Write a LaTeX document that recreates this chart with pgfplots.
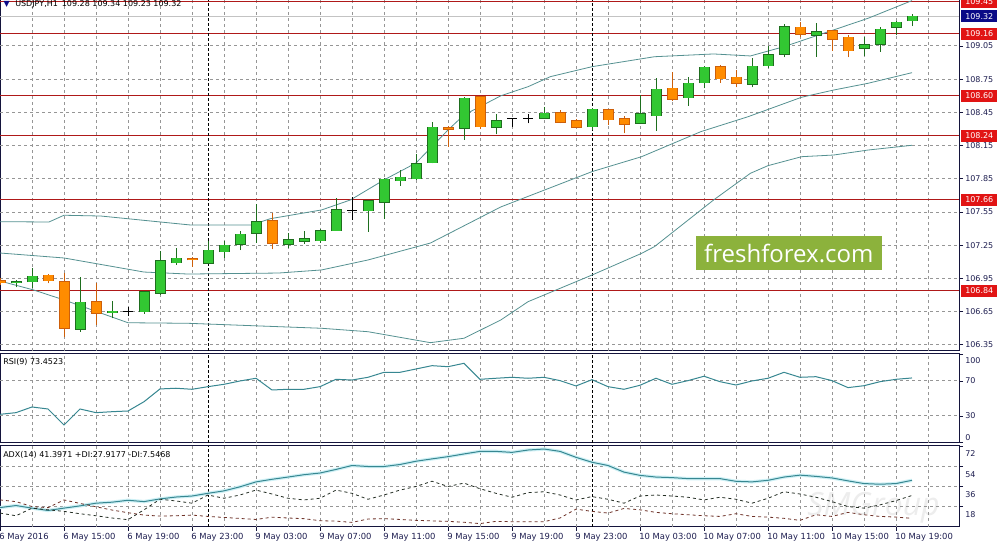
\documentclass[border=0pt]{standalone}
\usepackage{pgfplots}
\pgfplotsset{compat=1.18}
\usepackage{pgfplotstable}
\usepackage{fontspec}
\setmainfont{DejaVu Sans}
\newfontfamily\wmfont{Open Sans}
\definecolor{gfill}{RGB}{50,200,50}
\definecolor{gline}{RGB}{30,110,30}
\definecolor{ofill}{RGB}{255,140,0}
\definecolor{oline}{RGB}{205,95,10}
\definecolor{bbcol}{RGB}{85,145,145}
\definecolor{rsicol}{RGB}{55,135,145}
\definecolor{adxglow}{RGB}{205,240,245}
\definecolor{pdicol}{RGB}{35,45,35}
\definecolor{mdicol}{RGB}{110,50,40}
\definecolor{framecol}{RGB}{20,20,60}
\definecolor{lvlcol}{RGB}{175,25,25}
\definecolor{lvlbox}{RGB}{225,20,20}
\definecolor{navybox}{RGB}{10,10,135}
\definecolor{wmgreen}{RGB}{140,178,60}
\definecolor{bidcol}{RGB}{195,195,195}
\definecolor{labcol}{RGB}{30,30,80}
\definecolor{gridc}{RGB}{150,150,150}
\newcommand\tf{\fontsize{6pt}{7pt}\selectfont}
\newcommand\xf{\fontsize{6.3pt}{7pt}\selectfont}

\pgfplotstableread{
k O H L C
0 106.910 106.940 106.870 106.920
1 106.921 107.047 106.864 106.972
4 106.491 106.966 106.469 106.735
6 106.641 106.746 106.590 106.656
8 106.650 106.839 106.629 106.830
9 106.816 107.201 106.801 107.108
10 107.092 107.223 107.072 107.132
12 107.087 107.291 107.087 107.207
13 107.192 107.291 107.132 107.250
14 107.259 107.379 107.207 107.349
15 107.358 107.623 107.273 107.463
17 107.259 107.358 107.223 107.298
18 107.286 107.382 107.261 107.307
19 107.291 107.394 107.273 107.379
20 107.382 107.674 107.382 107.569
22 107.562 107.659 107.373 107.650
23 107.638 107.855 107.487 107.846
24 107.833 107.930 107.788 107.864
25 107.849 108.074 107.840 107.984
26 107.996 108.366 107.990 108.316
28 108.307 108.592 108.201 108.578
30 108.316 108.433 108.252 108.375
33 108.397 108.496 108.397 108.442
36 108.321 108.487 108.291 108.478
39 108.352 108.607 108.345 108.436
40 108.420 108.758 108.285 108.659
42 108.583 108.773 108.508 108.713
43 108.718 108.869 108.668 108.858
46 108.704 108.939 108.677 108.869
47 108.872 109.050 108.849 108.969
48 108.975 109.249 108.948 109.224
50 109.149 109.260 108.953 109.179
53 109.029 109.129 108.960 109.059
54 109.065 109.219 108.999 109.201
55 109.219 109.279 109.149 109.264
56 109.280 109.340 109.230 109.320
}\greentab

\pgfplotstableread{
k O H L C
-1 106.930 106.950 106.890 106.910
2 106.979 106.990 106.906 106.930
3 106.921 106.997 106.424 106.500
5 106.740 106.906 106.530 106.635
11 107.129 107.147 107.056 107.117
16 107.472 107.544 107.213 107.268
27 108.310 108.327 108.140 108.300
29 108.592 108.592 108.298 108.321
34 108.447 108.472 108.352 108.361
35 108.375 108.388 108.307 108.316
37 108.472 108.478 108.336 108.382
38 108.391 108.418 108.261 108.343
41 108.668 108.812 108.556 108.571
44 108.863 108.876 108.718 108.752
45 108.767 108.833 108.677 108.713
49 109.219 109.270 109.134 109.156
51 109.188 109.195 109.008 109.110
52 109.129 109.149 108.948 109.008
}\orangetab

\pgfplotstableread{
k O H L C
7 106.650 106.695 106.611 106.650
21 107.560 107.683 107.478 107.560
31 108.397 108.400 108.321 108.397
32 108.397 108.436 108.352 108.397
}\dojitab

\pgfplotstableread{
k rsi adx pdi mdi
-1 31.9 17.1 12.2 23.9
0 33.8 18.9 9.8 22.4
1 40.3 16.6 16.6 18.0
2 38.0 14.5 15.1 17.0
3 19.7 16.6 13.7 23.9
4 38.0 18.6 11.6 20.8
5 33.8 21.0 9.8 17.8
6 34.9 21.9 7.8 14.9
7 35.7 23.6 6.3 12.5
8 46.3 22.4 15.1 10.4
9 60.9 24.8 24.5 9.5
10 61.7 26.5 23.0 9.8
11 60.5 27.4 21.0 10.4
12 63.5 29.8 28.3 9.2
13 66.2 32.0 25.4 8.3
14 70.0 35.6 28.3 7.4
15 73.1 40.0 32.7 6.5
16 59.7 42.3 29.2 8.5
17 60.5 44.3 25.4 7.8
18 60.5 46.4 23.9 7.2
19 63.5 47.9 25.4 5.4
20 71.9 51.1 32.7 5.0
21 71.1 54.6 29.8 3.9
22 74.2 53.7 24.5 6.9
23 79.9 53.7 28.3 7.2
24 79.9 55.5 32.7 6.5
25 83.7 58.4 35.9 5.7
26 87.5 60.5 40.6 5.2
27 86.3 62.5 35.9 4.8
28 90.2 64.9 38.9 4.0
29 71.9 67.2 33.9 2.8
30 73.1 67.2 29.8 4.8
31 74.2 66.3 26.3 4.5
32 73.1 68.4 30.4 4.5
33 74.2 69.3 31.2 4.5
34 70.4 67.2 28.3 7.8
35 64.3 61.9 23.9 15.7
36 71.5 57.5 26.9 13.7
37 63.5 54.6 24.5 12.2
38 60.5 48.7 21.0 16.3
39 65.1 45.8 27.4 15.1
40 73.1 44.3 28.3 12.8
41 66.2 43.8 27.4 11.6
42 70.4 42.9 26.3 10.7
43 75.4 42.9 23.9 9.8
44 69.2 42.9 26.3 9.2
45 65.4 40.5 24.5 11.6
46 70.0 40.0 21.0 9.2
47 73.1 41.4 25.4 8.6
48 79.9 44.3 31.2 7.5
49 74.2 46.0 29.2 5.7
50 74.9 44.9 26.3 10.7
51 70.4 43.5 22.4 9.2
52 62.4 40.9 18.0 12.8
53 64.6 38.5 16.6 10.7
54 69.2 37.9 19.5 9.2
55 71.9 38.5 23.3 8.6
56 73.45 41.4 27.9 7.5
}\indtab

\pgfplotstableread{
g z
1 0
3 0
5 0
7 0
9 0
11 0
13 0
15 0
17 0
19 0
21 0
23 0
25 0
27 0
29 0
31 0
33 0
35 0
37 0
39 0
41 0
43 0
45 0
47 0
49 0
51 0
53 0
55 0
57 0
}\gridtab

\pgfplotsset{
  panel/.style={
    scale only axis, anchor=south west,
    xmin=-1, xmax=58.9375,
    axis line style={framecol, line width=0.75pt},
    clip=false,
    major tick length=3pt, tick align=outside,
    tick style={framecol, line width=0.6pt},
    ytick pos=right, yticklabel pos=right,
    yticklabel style={font=\tf, inner sep=0pt, anchor=west, xshift=1.5pt, text=labcol},
  },
  sep/.style={black, line width=0.75pt, dash pattern=on 2.25pt off 1.5pt},
  hgrid/.style={gridc, line width=0.75pt, dash pattern=on 2.25pt off 2.25pt},
}

\begin{document}
\begin{tikzpicture}
\fill[white] (0pt,0pt) rectangle (750.75pt,411.75pt);

% ---------------- main price panel ----------------
\begin{axis}[panel, at={(0pt,148.5pt)}, width=719.25pt, height=263.25pt,
  ymin=106.2948, ymax=109.4655,
  xtick=\empty,
  ytick={106.35,106.65,106.95,107.25,107.55,107.85,108.15,108.45,108.75,109.05},
  yticklabels={106.35,106.65,106.95,107.25,107.55,107.85,108.15,108.45,108.75,109.05}]
  % grid
  \addplot[hgrid, mark=none, quiver={u=0, v=3.1707}] table[x=g, y expr=\thisrow{z}+106.2948] {\gridtab};
  \addplot[hgrid] coordinates {(-1,106.35) (58.9375,106.35)};
  \addplot[hgrid] coordinates {(-1,106.65) (58.9375,106.65)};
  \addplot[hgrid] coordinates {(-1,106.95) (58.9375,106.95)};
  \addplot[hgrid] coordinates {(-1,107.25) (58.9375,107.25)};
  \addplot[hgrid] coordinates {(-1,107.55) (58.9375,107.55)};
  \addplot[hgrid] coordinates {(-1,107.85) (58.9375,107.85)};
  \addplot[hgrid] coordinates {(-1,108.15) (58.9375,108.15)};
  \addplot[hgrid] coordinates {(-1,108.45) (58.9375,108.45)};
  \addplot[hgrid] coordinates {(-1,108.75) (58.9375,108.75)};
  \addplot[hgrid] coordinates {(-1,109.05) (58.9375,109.05)};
  % bid line
  \addplot[bidcol, line width=0.6pt] coordinates {(-1,109.32) (58.9375,109.32)};
  % levels
  \addplot[lvlcol, line width=0.75pt] coordinates {(-1,109.45) (58.9375,109.45)};
  \addplot[lvlcol, line width=0.75pt] coordinates {(-1,109.16) (58.9375,109.16)};
  \addplot[lvlcol, line width=0.75pt] coordinates {(-1,108.60) (58.9375,108.60)};
  \addplot[lvlcol, line width=0.75pt] coordinates {(-1,108.24) (58.9375,108.24)};
  \addplot[lvlcol, line width=0.75pt] coordinates {(-1,107.66) (58.9375,107.66)};
  \addplot[lvlcol, line width=0.75pt] coordinates {(-1,106.84) (58.9375,106.84)};
  % separators
  \addplot[sep] coordinates {(12,106.2948) (12,109.4655)};
  \addplot[sep] coordinates {(36,106.2948) (36,109.4655)};
  % Bollinger bands
  \addplot[bbcol, line width=0.6pt] coordinates {(-1,107.463) (2.06,107.46) (3,107.521) (5.3,107.514) (10.9,107.433) (14.7,107.433) (15.9,107.49) (19.1,107.569) (20.9,107.659) (23,107.84) (25,107.993) (27,108.291) (28,108.427) (30.3,108.60) (32,108.682) (33.4,108.773) (36,108.863) (39.9,108.953) (43.6,108.978) (45.9,108.96) (48,109.044) (51.1,109.195) (53.25,109.30) (56,109.46)};
  \addplot[bbcol, line width=0.6pt] coordinates {(-1,107.18) (3,107.135) (8,107.008) (10.75,106.99) (16.4,106.999) (19.1,107.027) (22,107.117) (25.9,107.27) (30.3,107.596) (36,107.915) (39.1,108.05) (42.8,108.276) (45.75,108.411) (49.1,108.587) (51.1,108.652) (53.25,108.713) (56,108.809)};
  \addplot[bbcol, line width=0.6pt] coordinates {(-1,106.927) (1.1,106.846) (3,106.756) (7,106.55) (10.75,106.545) (19.1,106.5) (22,106.469) (25.9,106.37) (28,106.41) (30.3,106.575) (32,106.74) (36,106.981) (39.1,107.177) (39.9,107.237) (43.6,107.659) (45.9,107.9) (47,107.969) (49.1,108.05) (51.1,108.065) (53.25,108.11) (56,108.153)};
  % wicks
  \addplot[gline, line width=0.75pt, mark=none, quiver={u=0, v=\thisrow{H}-\thisrow{L}}] table[x=k, y=L] {\greentab};
  \addplot[oline, line width=0.75pt, mark=none, quiver={u=0, v=\thisrow{H}-\thisrow{L}}] table[x=k, y=L] {\orangetab};
  \addplot[black, line width=0.75pt, mark=none, quiver={u=0, v=\thisrow{H}-\thisrow{L}}] table[x=k, y=L] {\dojitab};
  \addplot[black, line width=0.75pt, mark=none, quiver={u=0.625, v=0}] table[x expr=\thisrow{k}-0.3125, y=O] {\dojitab};
  % bodies
  \addplot[gline, line width=8.25pt, mark=none, quiver={u=0, v=\thisrow{C}-\thisrow{O}+0.009}] table[x=k, y expr=\thisrow{O}-0.0045] {\greentab};
  \addplot[gfill, line width=6.75pt, mark=none, quiver={u=0, v=\thisrow{C}-\thisrow{O}}] table[x=k, y=O] {\greentab};
  \addplot[oline, line width=8.25pt, mark=none, quiver={u=0, v=\thisrow{O}-\thisrow{C}+0.009}] table[x=k, y expr=\thisrow{C}-0.0045] {\orangetab};
  \addplot[ofill, line width=6.75pt, mark=none, quiver={u=0, v=\thisrow{O}-\thisrow{C}}] table[x=k, y=C] {\orangetab};
  % watermark
  \node[fill=wmgreen, text=white, minimum width=139.5pt, minimum height=25.5pt, inner sep=0pt, font=\wmfont\fontsize{18pt}{20pt}\selectfont] at (axis cs:48.3,107.18) {freshforex.com};
  % level labels
  \node[fill=lvlbox, text=white, font=\tf, inner sep=0pt, minimum width=27pt, minimum height=9pt, anchor=west, xshift=1.5pt] at (axis cs:58.9375,109.45) {109.45};
  \node[fill=navybox, text=white, font=\tf, inner sep=0pt, minimum width=27pt, minimum height=9pt, anchor=west, xshift=1.5pt] at (axis cs:58.9375,109.32) {109.32};
  \node[fill=lvlbox, text=white, font=\tf, inner sep=0pt, minimum width=27pt, minimum height=9pt, anchor=west, xshift=1.5pt] at (axis cs:58.9375,109.16) {109.16};
  \node[fill=lvlbox, text=white, font=\tf, inner sep=0pt, minimum width=27pt, minimum height=9pt, anchor=west, xshift=1.5pt] at (axis cs:58.9375,108.60) {108.60};
  \node[fill=lvlbox, text=white, font=\tf, inner sep=0pt, minimum width=27pt, minimum height=9pt, anchor=west, xshift=1.5pt] at (axis cs:58.9375,108.24) {108.24};
  \node[fill=lvlbox, text=white, font=\tf, inner sep=0pt, minimum width=27pt, minimum height=9pt, anchor=west, xshift=1.5pt] at (axis cs:58.9375,107.66) {107.66};
  \node[fill=lvlbox, text=white, font=\tf, inner sep=0pt, minimum width=27pt, minimum height=9pt, anchor=west, xshift=1.5pt] at (axis cs:58.9375,106.84) {106.84};
  % title
  \node[anchor=base west, font=\tf, inner sep=0pt, text=navybox] at (rel axis cs:0,1) [xshift=2.5pt, yshift=-4.6pt] {▼};
  \node[anchor=base west, font=\tf, inner sep=0pt, text=black] at (rel axis cs:0,1) [xshift=11.25pt, yshift=-4.6pt] {USDJPY,H1\enspace 109.28 109.34 109.23 109.32};
\end{axis}

% ---------------- RSI panel ----------------
\begin{axis}[panel, at={(0pt,79.5pt)}, width=719.25pt, height=67.125pt,
  ymin=-0.86, ymax=101.4,
  xtick=\empty,
  ytick={0,30,70,100}, yticklabels={,30,70,}]
  \addplot[hgrid, mark=none, quiver={u=0, v=102.26}] table[x=g, y expr=\thisrow{z}-0.86] {\gridtab};
  \addplot[hgrid] coordinates {(-1,30) (58.9375,30)};
  \addplot[hgrid] coordinates {(-1,70) (58.9375,70)};
  \addplot[sep] coordinates {(12,-0.86) (12,101.4)};
  \addplot[sep] coordinates {(36,-0.86) (36,101.4)};
  \addplot[rsicol, line width=0.75pt, mark=none] table[x=k, y=rsi] {\indtab};
  \node[anchor=west, font=\tf, inner sep=0pt, text=labcol, xshift=4.5pt] at (axis cs:58.9375,93.4) {100};
  \node[anchor=west, font=\tf, inner sep=0pt, text=labcol, xshift=4.5pt] at (axis cs:58.9375,4.9) {0};
  \node[anchor=west, font=\tf, inner sep=0pt, text=black] at (rel axis cs:0,1) [xshift=2.25pt, yshift=-6.4pt] {RSI(9) 73.4523};
\end{axis}

% ---------------- ADX panel ----------------
\begin{axis}[panel, at={(0pt,16.5pt)}, width=719.25pt, height=60.75pt,
  ymin=-0.22, ymax=72,
  xtick={-1,3,...,55}, xtick pos=bottom,
  xticklabels={6 May 2016, 6 May 15:00, 6 May 19:00, 6 May 23:00, 9 May 03:00, 9 May 07:00, 9 May 11:00, 9 May 15:00, 9 May 19:00, 9 May 23:00, 10 May 03:00, 10 May 07:00, 10 May 11:00, 10 May 15:00, 10 May 19:00},
  xticklabel style={font=\xf, anchor=north west, inner sep=0pt, xshift=-0.75pt, yshift=-1.5pt, text=labcol},
  ytick={18,36,54,72}, yticklabels={18,36,54,72},
  yticklabel style={yshift=-6pt}]
  \node[text=black!7, font=\wmfont\itshape\fontsize{24pt}{24pt}\selectfont, anchor=center, inner sep=0pt] at (axis cs:53.6,17) {SMGroup};
  \addplot[hgrid, mark=none, quiver={u=0, v=72.22}] table[x=g, y expr=\thisrow{z}-0.22] {\gridtab};
  \addplot[hgrid] coordinates {(-1,18) (58.9375,18)};
  \addplot[hgrid] coordinates {(-1,36) (58.9375,36)};
  \addplot[hgrid] coordinates {(-1,54) (58.9375,54)};
  \addplot[sep] coordinates {(12,-0.22) (12,72)};
  \addplot[sep] coordinates {(36,-0.22) (36,72)};
  \addplot[adxglow, line width=2.5pt, mark=none] table[x=k, y=adx] {\indtab};
  \addplot[rsicol, line width=0.75pt, mark=none] table[x=k, y=adx] {\indtab};
  \addplot[pdicol, line width=0.6pt, dash pattern=on 2.25pt off 2.25pt, mark=none] table[x=k, y=pdi] {\indtab};
  \addplot[mdicol, line width=0.6pt, dash pattern=on 2.25pt off 2.25pt, mark=none] table[x=k, y=mdi] {\indtab};
  \node[anchor=west, font=\tf, inner sep=0pt, text=black] at (rel axis cs:0,1) [xshift=2.25pt, yshift=-6.4pt] {ADX(14) 41.3971 +DI:27.9177 -DI:7.5468};
\end{axis}

\pgfresetboundingbox
\useasboundingbox (0pt,0pt) rectangle (750.75pt,411.75pt);
\end{tikzpicture}
\end{document}
